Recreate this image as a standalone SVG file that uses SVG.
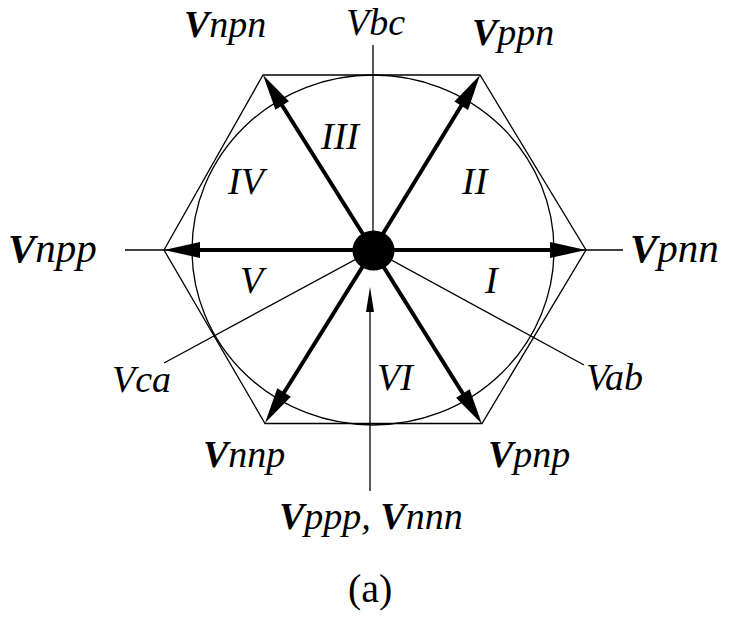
<svg xmlns="http://www.w3.org/2000/svg" width="733" height="630" viewBox="0 0 733 630">
<style>
.thin{stroke:#000;stroke-width:1.3;fill:none}
.vec{stroke:#000;stroke-width:4;fill:none;marker-end:url(#head)}
.lbl text{font-style:italic;font-size:38px;fill:#000}
.b{font-weight:bold}
.lbl text.n{font-style:normal}
.lbl text.w{font-size:41px}
</style>
<defs>
<marker id="head" markerUnits="userSpaceOnUse" markerWidth="40" markerHeight="18" viewBox="0 -9 38 18" refX="2" refY="0" orient="auto">
<path d="M0,-8 L36,0 L0,8 z" fill="#000"/>
</marker>
<marker id="small" markerUnits="userSpaceOnUse" markerWidth="28" markerHeight="10" viewBox="0 -5 27 10" refX="1" refY="0" orient="auto">
<path d="M0,-4 L25,0 L0,4 z" fill="#000"/>
</marker>
</defs>
<g id="frame">
<polygon class="thin" points="164,250 263,75 480,75 586,250 482,423.5 265,423.5"/>
<ellipse class="thin" cx="373" cy="250" rx="181" ry="175"/>
</g>
<g id="connectors">
<line class="thin" x1="125" y1="250" x2="623" y2="250"/>
<line class="thin" x1="373" y1="45" x2="373" y2="250"/>
<line class="thin" x1="373" y1="250" x2="164" y2="363"/>
<line class="thin" x1="373" y1="250" x2="584" y2="365"/>
<line class="thin" x1="370" y1="491" x2="370" y2="311" style="marker-end:url(#small)"/>
<line class="vec" x1="373" y1="250" x2="552" y2="250"/>
<line class="vec" x1="373" y1="250" x2="198" y2="250"/>
<line class="vec" x1="373" y1="250" x2="462.3" y2="104"/>
<line class="vec" x1="373" y1="250" x2="281.1" y2="103.8"/>
<line class="vec" x1="373" y1="250" x2="463.9" y2="395.2"/>
<line class="vec" x1="373" y1="250" x2="283" y2="394.2"/>
</g>
<g id="origin">
<ellipse cx="373.5" cy="250.5" rx="21" ry="20" fill="#000"/>
</g>
<g id="labels" class="lbl" font-family="'Liberation Serif', 'Times New Roman', 'DejaVu Serif', serif">
<text x="184" y="37"><tspan class="b">V</tspan>npn</text>
<text x="346" y="35">Vbc</text>
<text x="472" y="45"><tspan class="b">V</tspan>ppn</text>
<text class="w" x="8" y="262"><tspan class="b">V</tspan>npp</text>
<text class="w" x="630" y="262"><tspan class="b">V</tspan>pnn</text>
<text x="321" y="149">III</text>
<text x="462" y="194">II</text>
<text x="228" y="194">IV</text>
<text x="240" y="293">V</text>
<text x="485" y="293">I</text>
<text x="112" y="392">Vca</text>
<text x="377" y="390">VI</text>
<text x="586" y="390">Vab</text>
<text x="203" y="467"><tspan class="b">V</tspan>nnp</text>
<text x="488" y="467"><tspan class="b">V</tspan>pnp</text>
<text x="279" y="529"><tspan class="b">V</tspan>ppp, <tspan class="b">V</tspan>nnn</text>
<text class="n" x="348" y="602" style="font-size:40px">(a)</text>
</g>
</svg>
